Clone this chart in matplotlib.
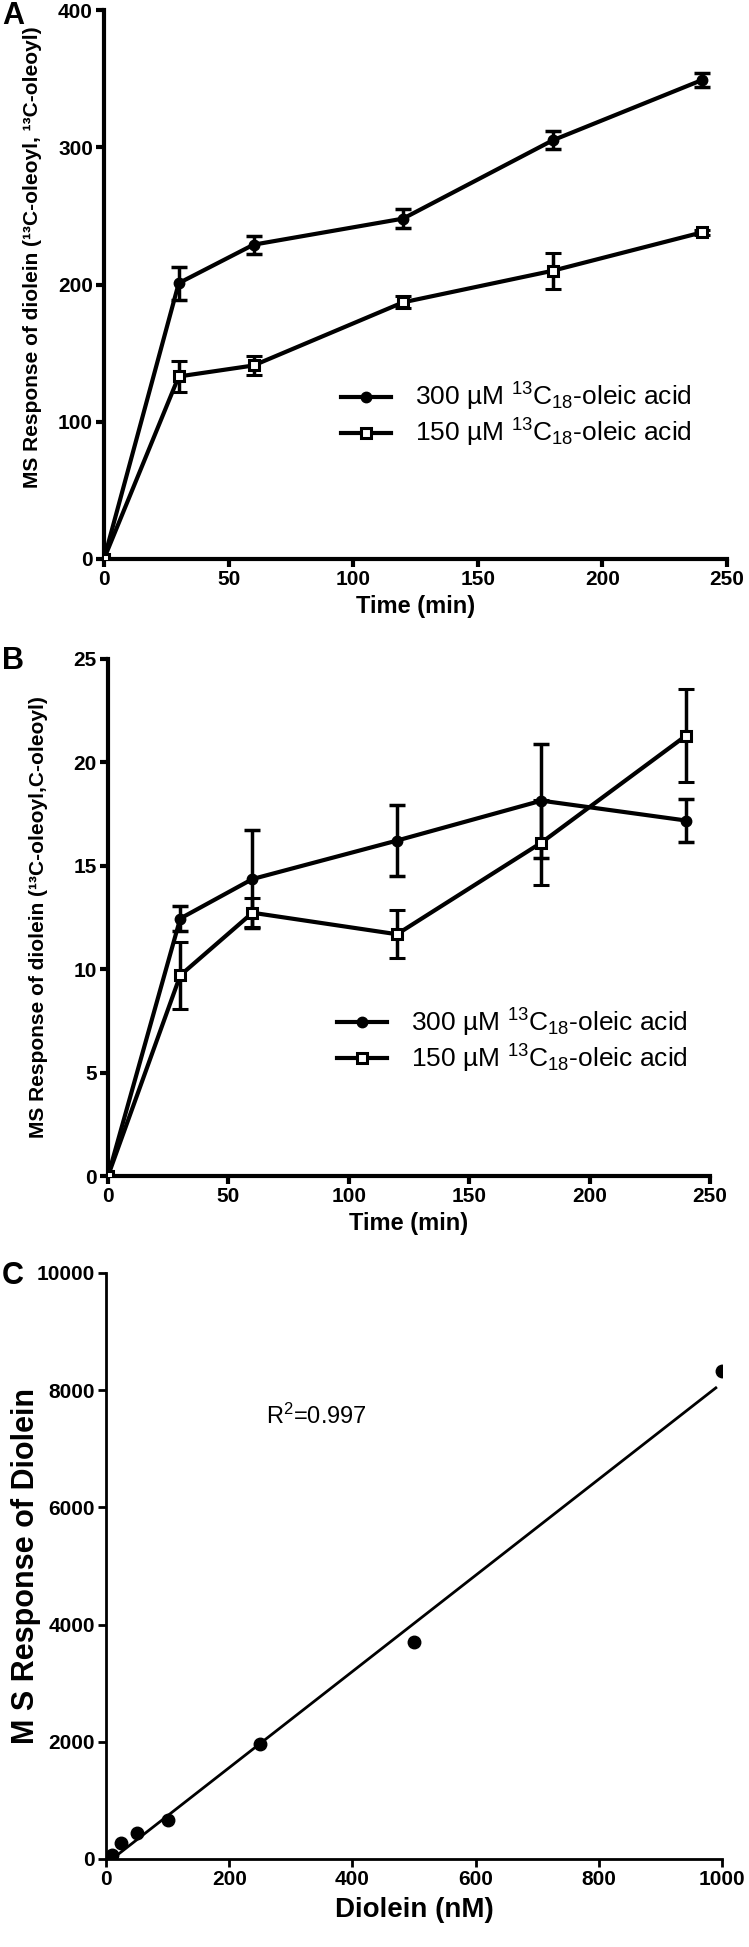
import matplotlib
matplotlib.use("Agg")
import matplotlib.pyplot as plt
from matplotlib.lines import Line2D
import numpy as np

plt.rcParams['font.family'] = ['Liberation Sans', 'DejaVu Sans']
plt.rcParams['mathtext.fontset'] = 'custom'
plt.rcParams['mathtext.rm'] = 'Liberation Sans'
plt.rcParams['mathtext.it'] = 'Liberation Sans:italic'
plt.rcParams['mathtext.bf'] = 'Liberation Sans:bold'

NARROW = ['Liberation Sans Narrow', 'Liberation Sans', 'DejaVu Sans']

# time course (min)
time_min = [0, 30, 60, 120, 180, 240]

# panel A: 13C-oleoyl,13C-oleoyl diolein
a_300 = [0, 201, 229, 248, 305, 349]
a_300_err = [0, 12, 6.5, 7, 6.5, 5]
a_150 = [0, 133, 141, 187, 210, 238]
a_150_err = [0, 11, 6.6, 4.3, 13, 2]

# panel B: 13C-oleoyl,C-oleoyl diolein
b_300 = [0, 12.45, 14.36, 16.22, 18.15, 17.19]
b_300_err = [0, 0.6, 2.37, 1.7, 2.76, 1.02]
b_150 = [0, 9.70, 12.73, 11.69, 16.12, 21.29]
b_150_err = [0, 1.63, 0.7, 1.16, 2.06, 2.25]

# panel C: standard curve
diolein_nM = [10, 25, 50, 100, 250, 500, 1000]
diolein_resp = [70, 270, 440, 660, 1970, 3700, 8330]
fit_x = [10, 990]
fit_y = [0, 8040]

label_300 = "300 µM $^{13}$C$_{18}$-oleic acid"
label_150 = "150 µM $^{13}$C$_{18}$-oleic acid"

W, H = 749, 1947
fig = plt.figure(figsize=(W / 100, H / 100), dpi=100)


def axes_px(left, right, top, bottom):
    return fig.add_axes([left / W, 1 - bottom / H, (right - left) / W, (bottom - top) / H])


def style_axes(ax, lw, tick_len):
    for s in ['top', 'right']:
        ax.spines[s].set_visible(False)
    for s in ['left', 'bottom']:
        ax.spines[s].set_linewidth(lw)
    ax.tick_params(direction='out', length=tick_len, width=lw, pad=2)


def time_panel(ax, y300, e300, y150, e150, ymax, ystep, ylabel, label_y):
    ax.errorbar(time_min, y300, yerr=e300, color='black', lw=3, marker='o', ms=7.5,
                capsize=6, capthick=2.5, elinewidth=2.5, zorder=3)
    ax.errorbar(time_min, y150, yerr=e150, color='black', lw=3, marker='s', ms=7.5,
                mfc='white', mew=2.2, capsize=6, capthick=2.5, elinewidth=2.5, zorder=3)
    ax.set_xlim(0, 250)
    ax.set_ylim(0, ymax)
    ax.set_xticks(range(0, 251, 50))
    ax.set_yticks(np.arange(0, ymax + 0.1, ystep))
    style_axes(ax, 3, 6)
    for t in ax.get_xticklabels() + ax.get_yticklabels():
        t.set_fontweight('bold')
        t.set_fontsize(15)
    ax.set_xlabel('Time (min)', fontsize=17, fontweight='bold', labelpad=4)
    ax.set_ylabel(ylabel, fontsize=15, fontweight='bold', family=NARROW)
    ax.yaxis.set_label_coords(-0.1, label_y)
    handles = [
        Line2D([], [], color='black', lw=3, marker='o', ms=7.5),
        Line2D([], [], color='black', lw=3, marker='s', ms=7.5, mfc='white', mew=2.2),
    ]
    ax.legend(handles, [label_300, label_150], loc='center left',
              bbox_to_anchor=(0.38, 0.262), frameon=False, fontsize=19,
              handlelength=1.9, handletextpad=0.9, labelspacing=0.15,
              borderpad=0, borderaxespad=0)


ax_a = axes_px(104, 727, 10, 559)
time_panel(ax_a, a_300, a_300_err, a_150, a_150_err, 400, 100,
           'MS Response of diolein (¹³C-oleoyl, ¹³C-oleoyl)', 0.55)

ax_b = axes_px(108, 710, 659, 1176)
time_panel(ax_b, b_300, b_300_err, b_150, b_150_err, 25, 5,
           'MS Response of diolein (¹³C-oleoyl,C-oleoyl)', 0.5)

ax_c = axes_px(106, 722, 1273, 1859)
ax_c.plot(fit_x, fit_y, color='black', lw=2)
ax_c.plot(diolein_nM, diolein_resp, 'o', color='black', ms=9)
ax_c.set_xlim(0, 1000)
ax_c.set_ylim(0, 10000)
ax_c.set_xticks(range(0, 1001, 200))
ax_c.set_yticks(range(0, 10001, 2000))
style_axes(ax_c, 2, 6)
for t in ax_c.get_xticklabels() + ax_c.get_yticklabels():
    t.set_fontweight('bold')
    t.set_fontsize(15)
    t.set_family(NARROW)
ax_c.set_xlabel('Diolein (nM)', fontsize=20, fontweight='bold', family=NARROW, labelpad=6)
ax_c.set_ylabel('M S Response of Diolein', fontsize=22, fontweight='bold')
ax_c.yaxis.set_label_coords(-0.105, 0.5)
ax_c.text(260, 7550, r'R$^2$=0.997', fontsize=17, family=NARROW, va='center', ha='left')

# panel letters
for letter, y_px in [('A', 16), ('B', 661), ('C', 1276)]:
    fig.text(2 / W, 1 - y_px / H, letter, fontsize=22, fontweight='bold',
             va='center', ha='left')

fig.savefig('out.png', dpi=100)
